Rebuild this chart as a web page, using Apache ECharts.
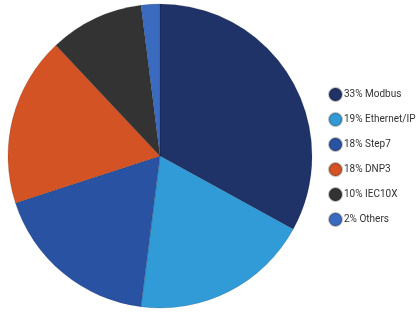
<!DOCTYPE html>
<html><head><meta charset="utf-8">
<script src="https://cdn.jsdelivr.net/npm/echarts@6/dist/echarts.min.js"></script>
<style>html,body{margin:0;padding:0;background:#fff}#c{width:420px;height:313px}</style>
</head><body><div id="c"></div>
<script>
const categories = ["Modbus", "Ethernet/IP", "Step7", "DNP3", "IEC10X", "Others"];
const values = [33, 19, 18, 18, 10, 2];
const colors = ["#1f3368", "#319bd7", "#2a52a2", "#d45324", "#333333", "#3b6bbf"];

const data = categories.map((c, i) => ({
  name: values[i] + "% " + c,
  value: values[i],
  itemStyle: { color: colors[i] }
}));

const chart = echarts.init(document.getElementById('c'), null, { renderer: 'canvas' });
chart.setOption({
  animation: false,
  legend: {
    orient: 'vertical',
    left: 323,
    top: 82,
    icon: 'circle',
    itemWidth: 13,
    itemHeight: 13,
    itemGap: 10,
    textStyle: { fontFamily: 'Roboto', fontSize: 10, color: '#333', padding: [0, 0, 0, -3] },
    data: data.map(d => d.name)
  },
  series: [{
    type: 'pie',
    center: [160, 156],
    radius: [0, 152],
    startAngle: 90,
    clockwise: true,
    label: { show: false },
    labelLine: { show: false },
    emphasis: { disabled: true },
    itemStyle: { borderColor: 'rgba(0,0,0,0.25)', borderWidth: 0.5 },
    data: data
  }]
});
</script></body></html>
